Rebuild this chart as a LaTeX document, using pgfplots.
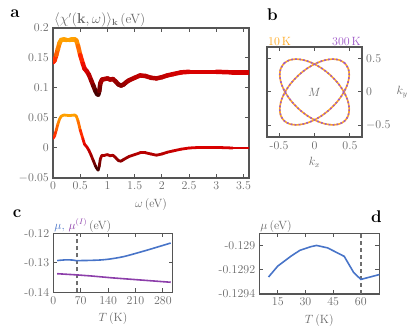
\documentclass[12pt,border=0pt]{standalone}
\usepackage{pgfplots}
\usepackage{pgfplotstable}
\pgfplotsset{compat=1.18}

\definecolor{axgray}{RGB}{85,85,85}
\definecolor{txtgray}{RGB}{105,105,105}
\definecolor{mublue}{RGB}{72,116,200}
\definecolor{mupurple}{RGB}{140,62,170}
\definecolor{fsorange}{RGB}{255,168,30}
\definecolor{fspurple}{RGB}{160,90,200}

% panel a: upper and lower curves
\pgfplotstableread{
x y
0.00 0.143
0.03 0.146
0.06 0.155
0.09 0.165
0.12 0.175
0.15 0.180
0.20 0.181
0.25 0.180
0.30 0.180
0.35 0.181
0.40 0.181
0.43 0.179
0.46 0.170
0.50 0.155
0.55 0.140
0.58 0.132
0.62 0.128
0.66 0.122
0.70 0.113
0.74 0.104
0.78 0.095
0.81 0.090
0.83 0.089
0.85 0.095
0.87 0.108
0.90 0.114
0.95 0.115
1.00 0.116
1.05 0.114
1.10 0.115
1.15 0.111
1.20 0.106
1.25 0.104
1.30 0.106
1.35 0.110
1.40 0.113
1.50 0.117
1.60 0.121
1.70 0.120
1.80 0.117
1.90 0.116
2.00 0.118
2.10 0.121
2.20 0.123
2.35 0.126
2.50 0.127
2.70 0.127
3.00 0.127
3.30 0.126
3.60 0.126
}\chiup

\pgfplotstableread{
x y
0.00 0.016
0.03 0.020
0.06 0.030
0.09 0.040
0.12 0.048
0.15 0.053
0.20 0.055
0.30 0.054
0.40 0.055
0.43 0.053
0.46 0.045
0.50 0.030
0.55 0.015
0.58 0.006
0.62 0.002
0.66 -0.004
0.70 -0.012
0.74 -0.021
0.78 -0.030
0.81 -0.035
0.83 -0.037
0.85 -0.030
0.87 -0.018
0.90 -0.012
0.95 -0.012
1.00 -0.011
1.05 -0.013
1.10 -0.012
1.15 -0.016
1.20 -0.021
1.25 -0.022
1.30 -0.019
1.40 -0.014
1.50 -0.011
1.60 -0.008
1.70 -0.008
1.80 -0.010
1.90 -0.012
2.00 -0.010
2.10 -0.007
2.20 -0.005
2.35 -0.002
2.50 0.000
2.70 0.001
3.00 0.001
3.30 0.000
3.60 0.000
}\chilow

% panel b: the two Fermi-surface sheets
\pgfplotstableread{
x y
0.4285 0.4285
0.3524 0.4754
0.2523 0.4899
0.1350 0.4710
0.0085 0.4201
-0.1186 0.3404
-0.2376 0.2376
-0.3404 0.1186
-0.4201 -0.0085
-0.4710 -0.1350
-0.4899 -0.2523
-0.4754 -0.3524
-0.4285 -0.4285
-0.3524 -0.4754
-0.2523 -0.4899
-0.1350 -0.4710
-0.0085 -0.4201
0.1186 -0.3404
0.2376 -0.2376
0.3404 -0.1186
0.4201 0.0085
0.4710 0.1350
0.4899 0.2523
0.4754 0.3524
0.4285 0.4285
}\fsone

\pgfplotstableread{
x y
-0.4285 0.4285
-0.3524 0.4754
-0.2523 0.4899
-0.1350 0.4710
-0.0085 0.4201
0.1186 0.3404
0.2376 0.2376
0.3404 0.1186
0.4201 -0.0085
0.4710 -0.1350
0.4899 -0.2523
0.4754 -0.3524
0.4285 -0.4285
0.3524 -0.4754
0.2523 -0.4899
0.1350 -0.4710
0.0085 -0.4201
-0.1186 -0.3404
-0.2376 -0.2376
-0.3404 -0.1186
-0.4201 0.0085
-0.4710 0.1350
-0.4899 0.2523
-0.4754 0.3524
-0.4285 0.4285
}\fstwo

% panels c and d: chemical potential
\pgfplotstableread{
T mu
10 -0.12926
15 -0.12917
22 -0.12909
27 -0.12904
33 -0.12901
36 -0.12900
42 -0.12902
51 -0.12909
56 -0.12922
60 -0.12928
70 -0.12924
90 -0.12920
120 -0.12905
140 -0.12880
160 -0.12840
180 -0.12790
200 -0.12720
220 -0.12645
240 -0.12570
260 -0.12490
280 -0.12410
300 -0.12330
}\mutab

\pgfplotstableread{
T mu
10 -0.1337
60 -0.1341
100 -0.1345
150 -0.1351
200 -0.1356
250 -0.1361
300 -0.1366
}\muitab

\pgfplotsset{
  panel/.style={
    scale only axis,
    anchor=south west,
    clip mode=individual,
    axis line style={axgray, line width=1.3pt},
    tick style={axgray, line width=1pt},
    major tick length=4bp,
    tick align=inside,
    tick label style={text=txtgray},
    label style={text=txtgray},
  },
}

\begin{document}
\begin{tikzpicture}
\useasboundingbox (0,0) rectangle (415bp,333bp);

% ---- a ----
\begin{axis}[panel, at={(53bp,155bp)}, width=196bp, height=150bp,
  xmin=0, xmax=3.6, ymin=-0.05, ymax=0.2,
  xtick={0,0.5,1,1.5,2,2.5,3,3.5},
  ytick={-0.05,0,0.05,0.1,0.15,0.2},
  yticklabel style={/pgf/number format/fixed, /pgf/number format/precision=2},
  xlabel={$\omega$\,(eV)},
  colormap={chi}{rgb255=(60,0,0) rgb255=(150,0,0) rgb255=(215,0,0) rgb255=(255,25,0) rgb255=(255,110,0) rgb255=(255,165,0)},
  point meta min=0.089, point meta max=0.182]
\addplot[mesh, point meta=y, line width=4.5pt, line cap=round] table[x=x, y=y] {\chiup};
\addplot[mesh, point meta={\thisrow{y}+0.126}, line width=2.8pt, line cap=round] table[x=x, y=y] {\chilow};
\node[anchor=south west, inner sep=1pt, text=txtgray, font=\fontsize{13.5}{16}\selectfont] at (axis description cs:0,1)
  {$\langle\chi'(\mathbf{k},\omega)\rangle_{\mathbf{k}}$\,(eV)};
\end{axis}

% ---- b ----
\begin{axis}[panel, at={(267bp,196bp)}, width=95bp, height=90bp,
  xmin=-0.67, xmax=0.67, ymin=-0.67, ymax=0.67,
  xtick={-0.5,0,0.5}, xticklabels={-0.5,0,0.5},
  ytick={-0.5,0,0.5}, yticklabel pos=right,
  xlabel={$k_x$}]
\addplot[fsorange, line width=1.6pt, smooth] table[x=x, y=y] {\fsone};
\addplot[fsorange, line width=1.6pt, smooth] table[x=x, y=y] {\fstwo};
\addplot[fspurple, line width=1.6pt, smooth, dash pattern=on 1.8pt off 2.2pt] table[x=x, y=y] {\fsone};
\addplot[fspurple, line width=1.6pt, smooth, dash pattern=on 1.8pt off 2.2pt] table[x=x, y=y] {\fstwo};
\node[text=txtgray] at (axis cs:0,0) {$M$};
\node[text=txtgray, anchor=west] at (axis description cs:1.32,0.5) {$k_y$};
\node[text=fsorange, anchor=south west, inner sep=1pt] at (axis description cs:0,1) {10\,K};
\node[text=fspurple, anchor=south east, inner sep=1pt] at (axis description cs:1,1) {300\,K};
\end{axis}

% ---- c ----
\begin{axis}[panel, at={(53.3bp,40.7bp)}, width=119.4bp, height=59bp,
  xmin=0, xmax=305, ymin=-0.14, ymax=-0.12,
  xtick={0,70,140,210,280},
  ytick={-0.14,-0.13,-0.12}, yticklabels={-0.14,-0.13,-0.12},
  xlabel={$T$\,(K)}]
\addplot[axgray!85, line width=1.5pt, dash pattern=on 4bp off 3bp] coordinates {(60,-0.14) (60,-0.12)};
\addplot[mupurple, line width=1.6pt] table[x=T, y=mu] {\muitab};
\addplot[mublue, line width=1.6pt, smooth] table[x=T, y=mu] {\mutab};
\node[anchor=south west, inner sep=1pt] at (axis description cs:0,1)
  {\textcolor{mublue}{$\mu$,} \textcolor{mupurple}{$\mu^{(I)}$}\,\textcolor{txtgray}{(eV)}};
\end{axis}

% ---- d ----
\begin{axis}[panel, at={(259.3bp,39bp)}, width=120bp, height=60.7bp,
  xmin=5, xmax=70, ymin=-0.1294, ymax=-0.1289,
  xtick={15,30,45,60},
  ytick={-0.1294,-0.1292,-0.129}, yticklabels={-0.1294,-0.1292,-0.129},
  xlabel={$T$\,(K)}]
\addplot[axgray!85, line width=1.5pt, dash pattern=on 4bp off 3bp] coordinates {(60,-0.1294) (60,-0.1289)};
\addplot[mublue, line width=1.6pt] table[x=T, y=mu] {\mutab};
\node[anchor=south west, inner sep=1pt, text=txtgray] at (axis description cs:0,1) {$\mu$\,(eV)};
\end{axis}

% panel letters
\node[font=\fontsize{17}{20}\selectfont\bfseries] at (15bp,319.5bp) {a};
\node[font=\fontsize{17}{20}\selectfont\bfseries] at (272.5bp,318bp) {b};
\node[font=\fontsize{17}{20}\selectfont\bfseries] at (17bp,119.7bp) {c};
\node[font=\fontsize{17}{20}\selectfont\bfseries] at (376.3bp,116bp) {d};
\end{tikzpicture}
\end{document}
